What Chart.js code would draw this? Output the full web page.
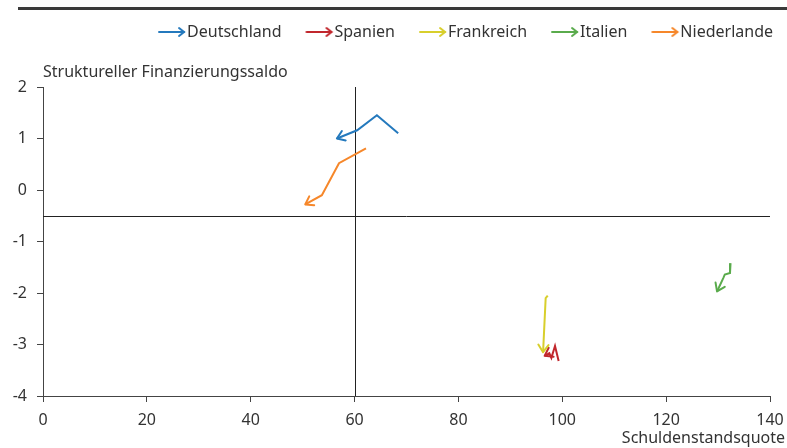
<!DOCTYPE html>
<html lang="de">
<head>
<meta charset="utf-8">
<title>Schuldenstandsquote und struktureller Finanzierungssaldo</title>
<script src="https://cdn.jsdelivr.net/npm/chart.js@4/dist/chart.umd.min.js"></script>
<style>
  html, body { margin: 0; padding: 0; background: #fff; }
  #wrap { position: relative; width: 787px; height: 448px; }
  #topline { position: absolute; left: 18px; right: 0; top: 7px; height: 3px; background: #3a3a3a; }
</style>
</head>
<body>
<div id="wrap">
  <div id="topline"></div>
  <canvas id="chart" width="787" height="448"></canvas>
</div>
<script>
// Länder und Farben
const laender = ['Deutschland', 'Spanien', 'Frankreich', 'Italien', 'Niederlande'];
const farben = ['#2479bd', '#c1272d', '#d8cf2c', '#5aab4c', '#f6872a'];

// Pfade (Schuldenstandsquote / struktureller Saldo), letzter Punkt = Pfeilspitze
const deX = [68.4, 64.3, 60.5, 56.6];
const deY = [1.10, 1.45, 1.16, 1.00];
const esX = [99.3, 98.6, 97.9, 97.5, 96.6];
const esY = [-3.32, -3.03, -3.26, -3.17, -3.22];
const frX = [97.2, 96.8, 96.3];
const frY = [-2.05, -2.10, -3.15];
const itX = [132.4, 132.3, 131.3, 131.0, 129.8];
const itY = [-1.42, -1.61, -1.64, -1.71, -1.97];
const nlX = [62.2, 57.0, 53.7, 50.5];
const nlY = [0.81, 0.52, -0.10, -0.28];

// Achsen
const xTicks = [0, 20, 40, 60, 80, 100, 120, 140];
const yTicks = [-4, -3, -2, -1, 0, 1, 2];
const xTitel = 'Schuldenstandsquote';
const yTitel = 'Struktureller Finanzierungssaldo';
const refX = 60;   // Referenzlinie Schuldenstand
const refY = -0.5; // Referenzlinie Saldo

const reihenX = [deX, esX, frX, itX, nlX];
const reihenY = [deY, esY, frY, itY, nlY];

function punkte(xs, ys) {
  return xs.map(function (x, i) { return { x: x, y: ys[i] }; });
}

// Pfeil als Legendensymbol (rechtsbündig im Bild, damit der Text dicht anschließt)
function pfeilIcon(farbe) {
  const c = document.createElement('canvas');
  c.width = 40; c.height = 12;
  const g = c.getContext('2d');
  g.strokeStyle = farbe; g.lineWidth = 2; g.lineCap = 'round';
  g.beginPath(); g.moveTo(12, 6); g.lineTo(37, 6); g.stroke();
  g.beginPath(); g.moveTo(32, 2); g.lineTo(37, 6); g.lineTo(32, 10); g.stroke();
  return c;
}

const textFarbe = '#333';
const achsenFarbe = '#444';
Chart.defaults.font.family = '"Noto Sans", "DejaVu Sans", sans-serif';
Chart.defaults.font.size = 16;
Chart.defaults.color = textFarbe;

// Legende: mehr Abstand nach unten, etwas nach rechts
const legendeAbstand = {
  id: 'legendeAbstand',
  afterInit(chart) {
    const lg = chart.legend;
    const fit = lg.fit.bind(lg);
    lg.fit = function () { fit(); this.height += 37; };
  },
  afterLayout(chart) {
    chart.legend.right += 24;
    chart.legend.left += 24;
  }
};

const refLinien = {
  id: 'refLinien',
  beforeDatasetsDraw(chart) {
    const ctx = chart.ctx, a = chart.chartArea;
    const xs = chart.scales.x, ys = chart.scales.y;
    ctx.save();
    ctx.strokeStyle = '#222'; ctx.lineWidth = 1;
    const px = Math.round(xs.getPixelForValue(refX)) + 0.5;
    const py = Math.round(ys.getPixelForValue(refY)) + 0.5;
    ctx.beginPath(); ctx.moveTo(px, a.top); ctx.lineTo(px, a.bottom); ctx.stroke();
    ctx.beginPath(); ctx.moveTo(a.left, py); ctx.lineTo(a.right, py); ctx.stroke();
    // Achsentitel
    ctx.fillStyle = textFarbe;
    ctx.font = '16px "Noto Sans", sans-serif';
    ctx.textBaseline = 'alphabetic';
    ctx.textAlign = 'left';
    ctx.fillText(yTitel, a.left, a.top - 10);
    ctx.textAlign = 'right';
    ctx.fillText(xTitel, chart.width - 2, chart.height - 5);
    ctx.restore();
  }
};

const pfeilSpitzen = {
  id: 'pfeilSpitzen',
  afterDatasetsDraw(chart) {
    const ctx = chart.ctx;
    chart.data.datasets.forEach(function (ds, i) {
      const meta = chart.getDatasetMeta(i);
      const n = meta.data.length;
      if (n < 2) return;
      const p1 = meta.data[n - 2], p2 = meta.data[n - 1];
      const w = Math.atan2(p2.y - p1.y, p2.x - p1.x);
      const l = 9, o = 0.6;
      ctx.save();
      ctx.strokeStyle = ds.borderColor; ctx.lineWidth = 2; ctx.lineCap = 'round'; ctx.lineJoin = 'round';
      ctx.beginPath();
      ctx.moveTo(p2.x - l * Math.cos(w - o), p2.y - l * Math.sin(w - o));
      ctx.lineTo(p2.x, p2.y);
      ctx.lineTo(p2.x - l * Math.cos(w + o), p2.y - l * Math.sin(w + o));
      ctx.stroke();
      ctx.restore();
    });
  }
};

new Chart(document.getElementById('chart'), {
  type: 'scatter',
  data: {
    datasets: laender.map(function (name, i) {
      return {
        label: name,
        data: punkte(reihenX[i], reihenY[i]),
        showLine: true,
        borderColor: farben[i],
        backgroundColor: farben[i],
        borderWidth: 2,
        pointRadius: 0,
        pointHoverRadius: 0,
        tension: 0
      };
    })
  },
  options: {
    responsive: false,
    animation: false,
    layout: { padding: { top: 3, right: 17, left: 0, bottom: 0 } },
    plugins: {
      tooltip: { enabled: false },
      legend: {
        position: 'top',
        align: 'end',
        labels: {
          usePointStyle: true,
          pointStyleWidth: 24,
          padding: 21,
          color: textFarbe,
          font: { size: 16 },
          generateLabels: function (chart) {
            return chart.data.datasets.map(function (ds, i) {
              return {
                text: ds.label,
                fillStyle: ds.borderColor,
                strokeStyle: ds.borderColor,
                fontColor: textFarbe,
                pointStyle: pfeilIcon(ds.borderColor),
                datasetIndex: i,
                hidden: false
              };
            });
          }
        }
      }
    },
    scales: {
      x: {
        type: 'linear',
        min: 0, max: 140,
        afterBuildTicks: function (s) { s.ticks = xTicks.map(function (v) { return { value: v }; }); },
        border: { color: achsenFarbe, width: 1 },
        grid: { drawOnChartArea: false, color: achsenFarbe, tickLength: 6 },
        ticks: { padding: 9, color: textFarbe, font: { size: 16 } },
        afterFit: function (s) { s.height = 52; s.paddingRight = 0; s.paddingLeft = 0; }
      },
      y: {
        type: 'linear',
        min: -4, max: 2,
        afterBuildTicks: function (s) { s.ticks = yTicks.map(function (v) { return { value: v }; }); },
        border: { color: achsenFarbe, width: 1 },
        grid: { drawOnChartArea: false, color: achsenFarbe, tickLength: 6 },
        ticks: { padding: 10, color: textFarbe, font: { size: 16 } },
        afterFit: function (s) { s.width = 43; }
      }
    }
  },
  plugins: [legendeAbstand, refLinien, pfeilSpitzen]
});
</script>
</body>
</html>
